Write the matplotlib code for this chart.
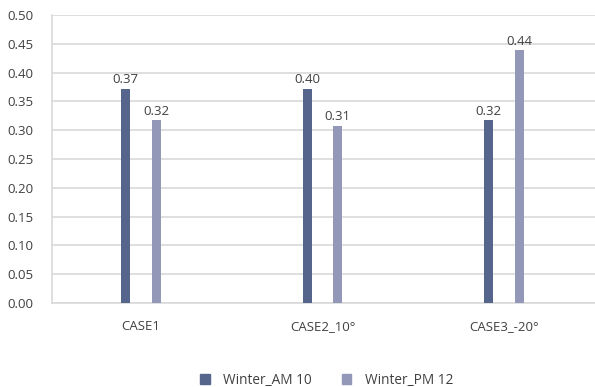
import numpy as np
import matplotlib.pyplot as plt
from matplotlib.patches import Patch

plt.rcParams['font.family'] = ['Open Sans', 'DejaVu Sans']

categories = ['CASE1', 'CASE2_10°', 'CASE3_-20°']
series_names = ['Winter_AM 10', 'Winter_PM 12']
am_values = [0.372, 0.372, 0.318]
pm_values = [0.318, 0.308, 0.439]
am_labels = ['0.37', '0.40', '0.32']
pm_labels = ['0.32', '0.31', '0.44']
y_ticks = [0.00, 0.05, 0.10, 0.15, 0.20, 0.25, 0.30, 0.35, 0.40, 0.45, 0.50]

am_color = '#56658c'
pm_color = '#9398b9'
text_color = '#404040'

fig = plt.figure(figsize=(5.95, 3.87), dpi=100)
ax = fig.add_axes([0.087, 0.217, 0.913, 0.744])

x = np.arange(len(categories))
offset = 0.084
width = 0.05

ax.bar(x - offset, am_values, width, color=am_color, zorder=3)
ax.bar(x + offset, pm_values, width, color=pm_color, zorder=3)

for i in range(len(categories)):
    ax.text(x[i] - offset, am_values[i] + 0.004, am_labels[i], ha='center', va='bottom',
            fontsize=9.5, color=text_color)
    ax.text(x[i] + offset, pm_values[i] + 0.004, pm_labels[i], ha='center', va='bottom',
            fontsize=9.5, color=text_color)

ax.set_xlim(-0.49, 2.5)
ax.set_ylim(0, 0.5)
ax.set_yticks(y_ticks)
ax.set_yticklabels([f'{v:.2f}' for v in y_ticks])
ax.set_xticks(x)
ax.set_xticklabels(categories)
ax.tick_params(axis='y', length=0, pad=13, labelsize=9.5, labelcolor=text_color)
ax.tick_params(axis='x', length=0, pad=12, labelsize=9.5, labelcolor=text_color)

ax.grid(axis='y', color='#d9d9d9', linewidth=1.2, zorder=0)
for side in ['top', 'right']:
    ax.spines[side].set_visible(False)
ax.spines['left'].set_color('#d9d9d9')
ax.spines['left'].set_linewidth(1.2)
ax.spines['bottom'].set_color('#d9d9d9')
ax.spines['bottom'].set_linewidth(1.2)

handles = [Patch(color=am_color), Patch(color=pm_color)]
fig.legend(handles, series_names, loc='center', bbox_to_anchor=(0.549, 0.018),
           ncol=2, frameon=False, fontsize=9.8, handlelength=0.7, handleheight=0.7,
           columnspacing=2.2, handletextpad=1.0, labelcolor=text_color)

fig.savefig('out.png', dpi=100)
